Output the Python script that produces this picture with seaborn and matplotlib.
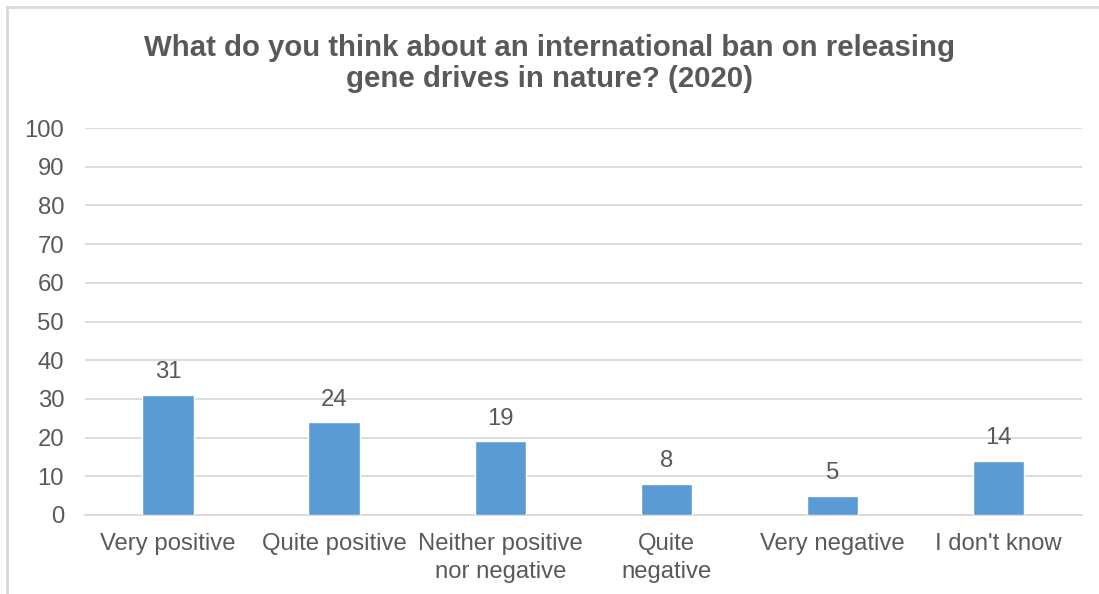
import matplotlib
matplotlib.use("Agg")
import matplotlib.pyplot as plt
import seaborn as sns
import pandas as pd
from matplotlib.patches import Rectangle

categories = ["Very positive", "Quite positive", "Neither positive\nnor negative",
              "Quite\nnegative", "Very negative", "I don't know"]
values = [31, 24, 19, 8, 5, 14]
yticks = [0, 10, 20, 30, 40, 50, 60, 70, 80, 90, 100]
title = "What do you think about an international ban on releasing\ngene drives in nature? (2020)"

sns.set_theme(style="white")
plt.rcParams["font.family"] = ["Liberation Sans", "DejaVu Sans"]

text_color = "#595959"
grid_color = "#D9D9D9"
bar_color = "#5B9BD5"

df = pd.DataFrame({"category": categories, "value": values})

fig = plt.figure(figsize=(10.99, 5.94), dpi=100)
ax = fig.add_axes([0.0773, 0.133, 0.907, 0.6515])

sns.barplot(data=df, x="category", y="value", color=bar_color, width=0.31,
            saturation=1, ax=ax, zorder=3)

ax.set_ylim(0, 100)
ax.set_yticks(yticks)
ax.set_xlim(-0.5, len(categories) - 0.5)
ax.yaxis.grid(True, color=grid_color, linewidth=1.3, zorder=0)
ax.set_axisbelow(True)
for s in ["top", "right", "left"]:
    ax.spines[s].set_visible(False)
ax.spines["bottom"].set_color(grid_color)
ax.spines["bottom"].set_linewidth(1.3)
ax.tick_params(axis="both", length=0, colors=text_color, labelsize=17.2)
ax.tick_params(axis="y", pad=15)
ax.tick_params(axis="x", pad=13)
ax.set_xlabel("")
ax.set_ylabel("")
for lbl in ax.get_xticklabels():
    lbl.set_linespacing(1.35)

for i, v in enumerate(values):
    ax.text(i, v + 3.0, str(v), ha="center", va="bottom", fontsize=17.2, color=text_color)

fig.text(0.5, 0.893, title, ha="center", va="center", fontsize=21.2, fontweight="bold",
         color=text_color, linespacing=1.15)

fig.patches.append(Rectangle((7 / 1099, -0.1), 1.5, 1 - 7 / 594 + 0.1,
                             transform=fig.transFigure, fill=False,
                             edgecolor=grid_color, linewidth=2))

fig.savefig("out.png", dpi=100)
